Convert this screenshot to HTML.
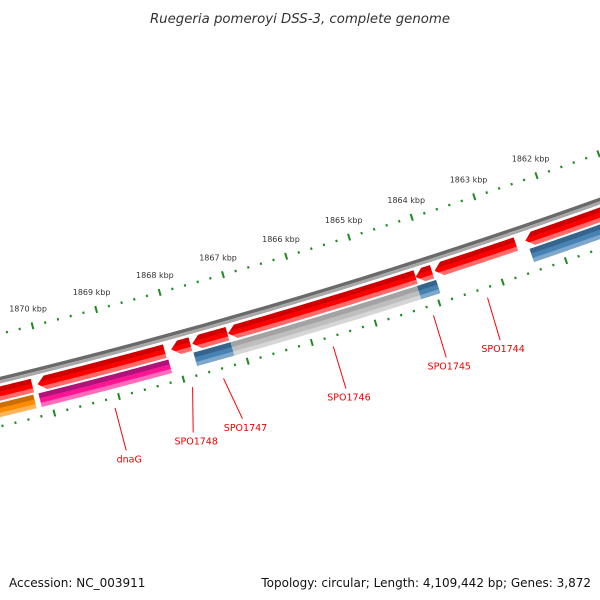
<!DOCTYPE html>
<html><head><meta charset="utf-8"><style>
html,body{margin:0;padding:0;background:#fff;}
svg{display:block;}
</style></head><body>
<svg id="map" width="600" height="600" viewBox="0 0 600 600" xmlns="http://www.w3.org/2000/svg">
<defs id="defs"></defs>
<text x="300" y="23" text-anchor="middle" font-family="DejaVu Sans, sans-serif" font-style="italic" font-size="13.3" fill="#333">Ruegeria pomeroyi DSS-3, complete genome</text>
<text x="9" y="587" font-family="DejaVu Sans, sans-serif" font-size="12" fill="#111">Accession: NC_003911</text>
<text x="591" y="587" text-anchor="end" font-family="DejaVu Sans, sans-serif" font-size="12" fill="#111">Topology: circular; Length: 4,109,442 bp; Genes: 3,872</text>
<g id="plot"></g>
</svg>
<script>
// ---- data (kbp) ----
const fwdStart = [1870.22, 1868.16, 1867.76, 1867.18, 1864.22, 1863.96, 1862.63, 1860.9];
const fwdEnd   = [1871.8, 1870.14, 1868.06, 1867.73, 1867.17, 1864.22, 1863.92, 1862.48];
const revStart = [1870.24, 1868.14, 1867.17, 1864.21, 1863.94, 1860.9];
const revEnd   = [1871.8, 1870.16, 1867.75, 1867.17, 1864.24, 1862.46];
const revCategory = ['orange', 'magenta', 'blue', 'gray', 'blue', 'blue'];
const labelText = ['dnaG', 'SPO1748', 'SPO1747', 'SPO1746', 'SPO1745', 'SPO1744'];
const labelAnchor = [1869.1, 1867.9, 1867.42, 1865.71, 1864.14, 1863.29];
const labelEnd = [1869.1, 1868.07, 1867.31, 1865.71, 1864.15, 1863.31];
const majorTicks = [1862, 1863, 1864, 1865, 1866, 1867, 1868, 1869, 1870, 1871];
const tickLabels = ['1862 kbp','1863 kbp','1864 kbp','1865 kbp','1866 kbp','1867 kbp','1868 kbp','1869 kbp','1870 kbp','1871 kbp'];

// ---- geometry ----
const NS = 'http://www.w3.org/2000/svg';
const CX = -1427, CY = -5494;
const R_TICK = 6000, R_BACK = 6045, R_FWD = 6058, R_REV = 6074, R_TICK2 = 6090;
const R_LBL0 = 6100, R_LBL1 = 6144;
const HALF = 7;
function ang(kbp){ return (73.41 + (kbp - 1866) * 0.628) * Math.PI / 180; }
function pt(r, kbp){ const a = ang(kbp); return [CX + r * Math.cos(a), CY + r * Math.sin(a)]; }
const plot = document.getElementById('plot');
const defs = document.getElementById('defs');
function mk(tag, attrs, parent){ const e = document.createElementNS(NS, tag); for (const k in attrs) e.setAttribute(k, attrs[k]); (parent || plot).appendChild(e); return e; }
function arcPath(r, k1, k2){ const n = 24; let d = ''; for (let i = 0; i <= n; i++){ const p = pt(r, k1 + (k2 - k1) * i / n); d += (i ? 'L' : 'M') + p[0].toFixed(2) + ' ' + p[1].toFixed(2); } return d; }
function bandPoly(r, k1, k2, arrow){
  const headK = arrow ? (8 / R_FWD) * 180 / Math.PI / 0.628 : 0;
  const kb = k2 - headK, n = 24, pts = [];
  for (let i = 0; i <= n; i++) pts.push(pt(r - HALF, k1 + (kb - k1) * i / n));
  if (arrow) pts.push(pt(r, k2));
  for (let i = n; i >= 0; i--) pts.push(pt(r + HALF, k1 + (kb - k1) * i / n));
  return pts.map(p => p[0].toFixed(2) + ',' + p[1].toFixed(2)).join(' ');
}
const palette = {
  red: ['#d00000', '#ff0000', '#ff6b6b'],
  orange: ['#cc6f00', '#ff8c00', '#ffb45a'],
  magenta: ['#b0127a', '#ff1493', '#ff6cbc'],
  blue: ['#35648c', '#4682b4', '#7da8cc'],
  gray: ['#a3a3a3', '#bebebe', '#d6d6d6']
};
let clipId = 0;
function feature(r, k1, k2, arrow, cols, name){
  const id = 'clip' + (clipId++);
  const cp = mk('clipPath', {id: id}, defs);
  mk('polygon', {points: bandPoly(r, k1, k2, arrow)}, cp);
  const g = mk('g', {'clip-path': 'url(#' + id + ')'});
  
  
  const lo = k1 - 0.3, hi = k2 + 0.3;
  mk('path', {d: arcPath(r - 4.5, lo, hi), stroke: cols[0], 'stroke-width': 5.5, fill: 'none'}, g);
  mk('path', {d: arcPath(r + 0.5, lo, hi), stroke: cols[1], 'stroke-width': 5, fill: 'none'}, g);
  mk('path', {d: arcPath(r + 5, lo, hi), stroke: cols[2], 'stroke-width': 4.5, fill: 'none'}, g);
}

// backbone
const bb1 = mk('path', {d: arcPath(R_BACK - 1.5, 1860.5, 1872.5), stroke: '#6a6a6a', 'stroke-width': 3.5, fill: 'none'});


const bb2 = mk('path', {d: arcPath(R_BACK + 1.8, 1860.5, 1872.5), stroke: '#a8a8a8', 'stroke-width': 3, fill: 'none'});



// ticks
for (let i = 0; i <= 60; i++){
  const k = 1860.6 + i * 0.2;
  const isMajor = Math.abs(k - Math.round(k)) < 0.01;
  const len = isMajor ? 3.5 : 1.2;
  [R_TICK, R_TICK2].forEach((r, j) => {
    const a = pt(r - len, k), b = pt(r + len, k);
    const t = mk('line', {x1: a[0], y1: a[1], x2: b[0], y2: b[1], stroke: '#1e8a1e', 'stroke-width': 2});
    
    
  });
}
majorTicks.forEach((k, i) => {
  const p = pt(R_TICK - 18, k);
  const t = mk('text', {x: p[0], y: p[1] + 3, 'text-anchor': 'middle', 'font-family': 'DejaVu Sans, sans-serif', 'font-size': 8, fill: '#333'});
  t.textContent = tickLabels[i];
  
  
});

// forward features (arrow at high-kbp end)
fwdStart.forEach((s, i) => feature(R_FWD, s, fwdEnd[i], true, palette.red, 'cds-feature-' + i));
// lower track features
revStart.forEach((s, i) => feature(R_REV, s, revEnd[i], false, palette[revCategory[i]], 'cog-feature-' + i));

// labels
labelText.forEach((txt, i) => {
  const a = pt(R_LBL0, labelAnchor[i]), b = pt(R_LBL1, labelEnd[i]);
  const l = mk('line', {x1: a[0], y1: a[1], x2: b[0], y2: b[1], stroke: '#ff0000', 'stroke-width': 1});
  
  
  const t = mk('text', {x: b[0] + 3, y: b[1] + 12, 'text-anchor': 'middle', 'font-family': 'DejaVu Sans, sans-serif', 'font-size': 9.5, fill: '#ee0000'});
  t.textContent = txt;
  
  
});
</script>
</body></html>
